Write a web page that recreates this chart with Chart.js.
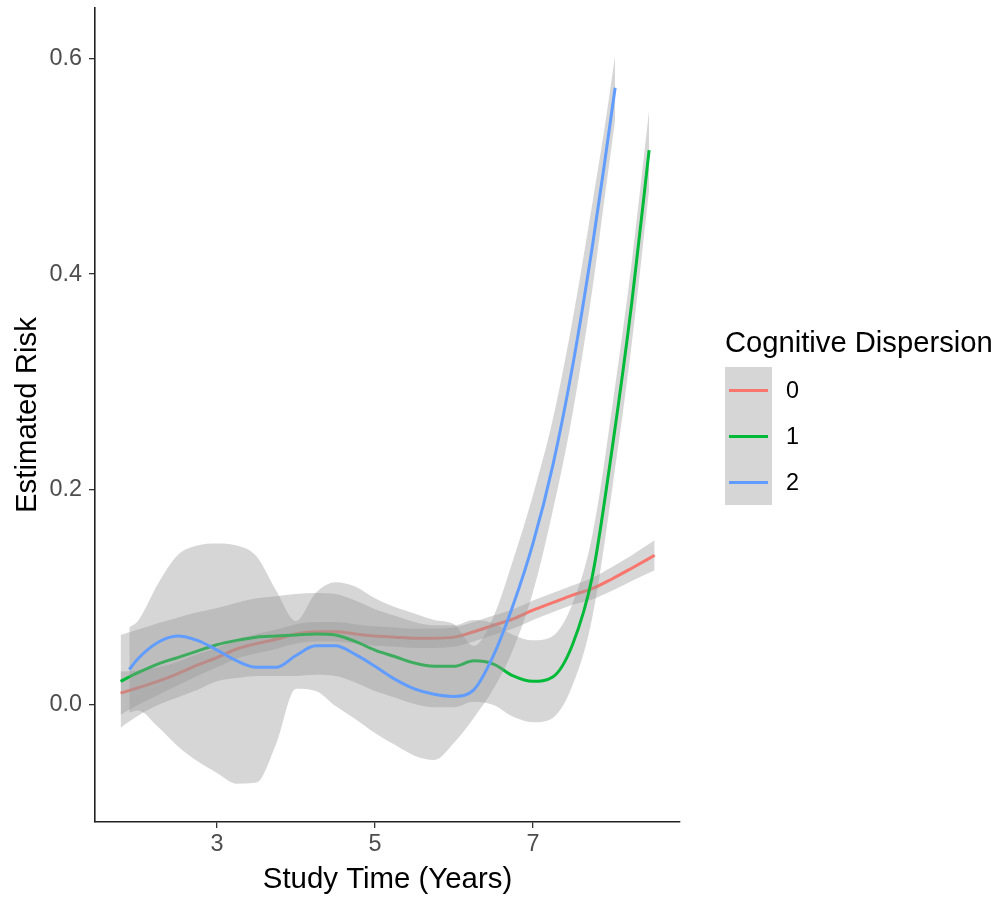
<!DOCTYPE html>
<html>
<head>
<meta charset="utf-8">
<script src="https://cdn.jsdelivr.net/npm/chart.js@4.4.1/dist/chart.umd.min.js"></script>
<style>
  body { margin: 0; background: #fff; }
  #wrap { position: relative; width: 1000px; height: 906px; font-family: "Liberation Sans", Arial, sans-serif; }
  #legend { position: absolute; left: 725px; top: 0; }
  #legend .ttl { position: absolute; left: 0; top: 328px; font-size: 29.2px; line-height: 29px; white-space: nowrap; color: #000; }
  #legend .keys { position: absolute; left: 0; top: 367px; }
  #legend .row { position: relative; height: 46px; }
  #legend .key { position: absolute; left: 0; top: 0; width: 47px; height: 46px; background: #d6d6d6; }
  #legend .key span { position: absolute; left: 4px; top: 21.5px; width: 39px; height: 3px; }
  #legend .lab { position: absolute; left: 61px; top: 0; font-size: 23.4px; line-height: 46px; color: #000; }
</style>
</head>
<body>
<div id="wrap">
  <canvas id="riskChart" width="1000" height="906"></canvas>
  <div id="legend">
    <div class="ttl">Cognitive Dispersion</div>
    <div class="keys" id="keys"></div>
  </div>
</div>
<script>
// group 0
const redX  = [1.78, 2.0, 2.25, 2.5, 2.75, 3.0, 3.25, 3.5, 3.75, 4.0, 4.25, 4.5, 4.75, 5.0, 5.25, 5.5, 5.75, 6.0, 6.25, 6.5, 6.75, 7.0, 7.25, 7.5, 7.75, 8.0, 8.25, 8.54];
const redY  = [0.011, 0.016, 0.022, 0.029, 0.037, 0.044, 0.052, 0.057, 0.061, 0.066, 0.068, 0.068, 0.066, 0.064, 0.063, 0.062, 0.062, 0.063, 0.068, 0.074, 0.080, 0.088, 0.095, 0.102, 0.108, 0.117, 0.127, 0.139];
const redHi = [0.031, 0.032, 0.035, 0.040, 0.047, 0.053, 0.061, 0.066, 0.070, 0.075, 0.077, 0.077, 0.075, 0.073, 0.072, 0.071, 0.071, 0.072, 0.077, 0.083, 0.089, 0.097, 0.104, 0.111, 0.118, 0.128, 0.139, 0.153];
const redLo = [-0.009, 0.000, 0.009, 0.018, 0.027, 0.035, 0.043, 0.048, 0.052, 0.057, 0.059, 0.059, 0.057, 0.055, 0.054, 0.053, 0.053, 0.054, 0.059, 0.065, 0.071, 0.079, 0.086, 0.093, 0.098, 0.106, 0.115, 0.125];

// group 1
const greenX  = [1.78, 2.0, 2.25, 2.5, 2.75, 3.0, 3.25, 3.5, 3.75, 4.0, 4.25, 4.5, 4.75, 5.0, 5.25, 5.5, 5.75, 6.0, 6.25, 6.5, 6.75, 7.0, 7.25, 7.5, 7.75, 8.0, 8.25, 8.47];
const greenY  = [0.022, 0.030, 0.038, 0.044, 0.050, 0.056, 0.060, 0.063, 0.064, 0.065, 0.066, 0.065, 0.059, 0.051, 0.045, 0.039, 0.036, 0.036, 0.041, 0.038, 0.027, 0.022, 0.026, 0.056, 0.119, 0.237, 0.373, 0.515];
const greenHi = [0.065, 0.070, 0.076, 0.081, 0.086, 0.090, 0.095, 0.099, 0.101, 0.103, 0.104, 0.103, 0.097, 0.089, 0.083, 0.077, 0.074, 0.074, 0.079, 0.076, 0.065, 0.060, 0.064, 0.094, 0.157, 0.275, 0.411, 0.552];
const greenLo = [-0.021, -0.010, 0.000, 0.007, 0.014, 0.022, 0.025, 0.027, 0.027, 0.027, 0.028, 0.027, 0.021, 0.013, 0.007, 0.001, -0.002, -0.002, 0.003, 0.000, -0.011, -0.016, -0.012, 0.018, 0.081, 0.199, 0.335, 0.478];

// group 2
const blueX  = [1.89, 2.0, 2.25, 2.5, 2.75, 3.0, 3.25, 3.5, 3.75, 4.0, 4.25, 4.5, 4.75, 5.0, 5.25, 5.5, 5.75, 6.0, 6.25, 6.5, 6.75, 7.0, 7.25, 7.5, 7.75, 7.9, 8.04];
const blueY  = [0.033, 0.043, 0.058, 0.064, 0.060, 0.051, 0.041, 0.035, 0.035, 0.046, 0.055, 0.055, 0.047, 0.036, 0.024, 0.015, 0.010, 0.008, 0.014, 0.046, 0.093, 0.150, 0.222, 0.314, 0.425, 0.500, 0.573];
const blueHi = [0.072, 0.078, 0.112, 0.139, 0.148, 0.150, 0.148, 0.138, 0.106, 0.078, 0.104, 0.114, 0.110, 0.099, 0.091, 0.085, 0.079, 0.075, 0.055, 0.082, 0.135, 0.195, 0.265, 0.357, 0.465, 0.533, 0.603];
const blueLo = [-0.007, -0.005, -0.020, -0.038, -0.052, -0.063, -0.073, -0.072, -0.036, 0.015, 0.013, -0.001, -0.013, -0.026, -0.037, -0.047, -0.051, -0.035, -0.012, 0.015, 0.052, 0.105, 0.180, 0.270, 0.385, 0.467, 0.543];

const groupLabels = ['0', '1', '2'];
const groupColors = ['#F8766D', '#00BA38', '#619CFF'];
const xTicks = [3, 5, 7];
const yTicks = [0.0, 0.2, 0.4, 0.6];

const bandFill = 'rgba(153,153,153,0.4)';
const fontFamily = '"Liberation Sans", Arial, sans-serif';

function pts(xs, ys) {
    return xs.map((x, i) => ({ x: x, y: ys[i] }));
}

const groups = [
    { x: redX, y: redY, hi: redHi, lo: redLo },
    { x: greenX, y: greenY, hi: greenHi, lo: greenLo },
    { x: blueX, y: blueY, hi: blueHi, lo: blueLo }
];

// ggplot draws ribbon then line, group by group; higher order = drawn earlier
const datasets = [];
groups.forEach((g, i) => {
    const base = 10 - i * 3;
    datasets.push({
        label: 'hi' + i, data: pts(g.x, g.hi), borderWidth: 0, pointRadius: 0,
        backgroundColor: bandFill, fill: '+1', cubicInterpolationMode: 'monotone', order: base
    });
    datasets.push({
        label: 'lo' + i, data: pts(g.x, g.lo), borderWidth: 0, pointRadius: 0,
        fill: false, cubicInterpolationMode: 'monotone', order: base
    });
    datasets.push({
        label: groupLabels[i], data: pts(g.x, g.y), borderColor: groupColors[i], borderWidth: 3,
        pointRadius: 0, fill: false, cubicInterpolationMode: 'monotone', order: base - 1
    });
});

const ctx = document.getElementById('riskChart').getContext('2d');
const riskChart = new Chart(ctx, {
    type: 'line',
    data: { datasets: datasets },
    options: {
        responsive: false,
        animation: false,
        devicePixelRatio: 1,
        layout: { padding: { left: 0, top: 8, right: 320, bottom: 0 } },
        plugins: { legend: { display: false }, tooltip: { enabled: false } },
        scales: {
            x: {
                type: 'linear',
                min: 1.456,
                max: 8.861,
                afterBuildTicks: (s) => { s.ticks = xTicks.map(v => ({ value: v })); },
                afterFit: (s) => { s.height = 84; s.paddingLeft = 0; s.paddingRight = 0; },
                grid: { drawOnChartArea: false, drawTicks: true, tickLength: 6, color: '#333', lineWidth: 1.3 },
                border: { display: true, color: '#222', width: 1.6 },
                ticks: { color: '#4d4d4d', font: { family: fontFamily, size: 23.4 }, padding: 3, maxRotation: 0,
                         callback: (v) => String(v) },
                title: { display: true, text: 'Study Time (Years)', color: '#000',
                         font: { family: fontFamily, size: 29.4 }, padding: { top: 0, bottom: 8 } }
            },
            y: {
                min: -0.1086,
                max: 0.647,
                afterBuildTicks: (s) => { s.ticks = yTicks.map(v => ({ value: v })); },
                afterFit: (s) => { s.width = 95; s.paddingTop = 0; s.paddingBottom = 0; },
                grid: { drawOnChartArea: false, drawTicks: true, tickLength: 6, color: '#333', lineWidth: 1.3 },
                border: { display: true, color: '#222', width: 1.6 },
                ticks: { color: '#4d4d4d', font: { family: fontFamily, size: 23.4 }, padding: 7,
                         callback: (v) => v.toFixed(1) },
                title: { display: true, text: 'Estimated Risk', color: '#000',
                         font: { family: fontFamily, size: 29.4 }, padding: { top: 10, bottom: 0 } }
            }
        }
    }
});

// legend keys
const keys = document.getElementById('keys');
groupLabels.forEach((lab, i) => {
    const row = document.createElement('div');
    row.className = 'row';
    row.innerHTML = '<div class="key"><span style="background:' + groupColors[i] + '"></span></div>' +
                    '<div class="lab">' + lab + '</div>';
    keys.appendChild(row);
});
</script>
</body>
</html>
